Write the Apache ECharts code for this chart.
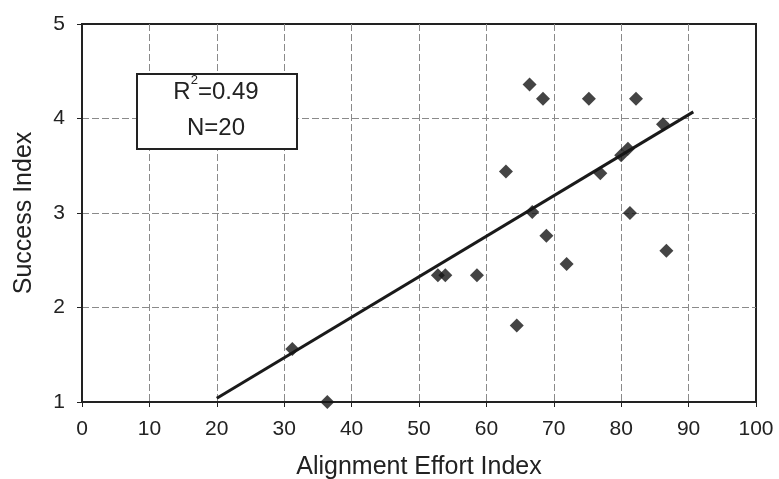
<!DOCTYPE html>
<html>
<head>
<meta charset="utf-8">
<script src="https://cdn.jsdelivr.net/npm/echarts@6/dist/echarts.min.js"></script>
<style>
  html, body { margin: 0; padding: 0; background: #fff; }
  #chart { width: 779px; height: 479px; }
</style>
</head>
<body>
<div id="chart"></div>
<script>
// alignment effort (x) vs success (y)
const effort = [66.4, 68.4, 75.2, 82.2, 86.2, 81.0, 80.0, 76.9, 62.9, 66.8,
                81.3, 68.9, 71.9, 86.7, 52.8, 53.9, 58.6, 64.5, 31.2, 36.4];
const success = [4.36, 4.21, 4.21, 4.21, 3.94, 3.68, 3.61, 3.42, 3.44, 3.01,
                 3.00, 2.76, 2.46, 2.60, 2.34, 2.34, 2.34, 1.81, 1.56, 1.00];
// fitted line end points
const fitX = [20, 90.7];
const fitY = [1.04, 4.07];
const statsLines = ['R{sup|2}=0.49', 'N=20'];

const chart = echarts.init(document.getElementById('chart'));
const FONT = 'Liberation Sans, Arial, sans-serif';
const gridLine = {
  show: true, showMinLine: false, showMaxLine: false,
  lineStyle: { color: '#8a8a8a', width: 1, type: [7, 3] }
};

const options = {
  animation: false,
  backgroundColor: '#fff',
  textStyle: { fontFamily: FONT },
  grid: {
    left: 82, right: 23, top: 24, bottom: 77,
    outerBoundsMode: 'none',
    show: true, borderColor: '#222', borderWidth: 2, backgroundColor: '#fff'
  },
  xAxis: {
    type: 'value', min: 0, max: 100, interval: 10,
    name: 'Alignment Effort Index', nameLocation: 'middle', nameGap: 53,
    nameTextStyle: { fontSize: 25, color: '#222', fontFamily: FONT },
    axisLine: { show: true, lineStyle: { color: '#222', width: 2 } },
    axisTick: { show: true, length: 5, lineStyle: { color: '#222' } },
    axisLabel: { fontSize: 21, color: '#222', margin: 17 },
    splitLine: gridLine
  },
  yAxis: {
    type: 'value', min: 1, max: 5, interval: 1,
    name: 'Success Index', nameLocation: 'middle', nameGap: 45,
    nameTextStyle: { fontSize: 25, color: '#222', fontFamily: FONT },
    axisLine: { show: true, lineStyle: { color: '#222', width: 2 } },
    axisTick: { show: true, length: 5, lineStyle: { color: '#222' } },
    axisLabel: { fontSize: 21, color: '#222', margin: 17 },
    splitLine: gridLine
  },
  series: [
    {
      type: 'line',
      data: fitX.map((x, i) => [x, fitY[i]]),
      showSymbol: false,
      lineStyle: { color: '#1a1a1a', width: 3 },
      z: 3
    },
    {
      type: 'scatter',
      data: effort.map((x, i) => [x, success[i]]),
      symbol: 'diamond',
      symbolSize: 14,
      itemStyle: { color: '#151515' },
      z: 4
    }
  ],
  graphic: [
    {
      type: 'rect',
      left: 136, top: 73,
      shape: { width: 160, height: 75 },
      style: { fill: '#fff', stroke: '#222', lineWidth: 2 },
      z: 10
    },
    {
      type: 'text',
      x: 216, y: 110,
      style: {
        text: statsLines.join('\n'),
        align: 'center',
        verticalAlign: 'middle',
        fontSize: 24,
        lineHeight: 36,
        fill: '#222',
        fontFamily: FONT,
        rich: { sup: { fontSize: 13, verticalAlign: 'top', lineHeight: 26, fill: '#222', fontFamily: FONT } }
      },
      z: 11
    }
  ]
};

options && chart.setOption(options);
</script>
</body>
</html>
